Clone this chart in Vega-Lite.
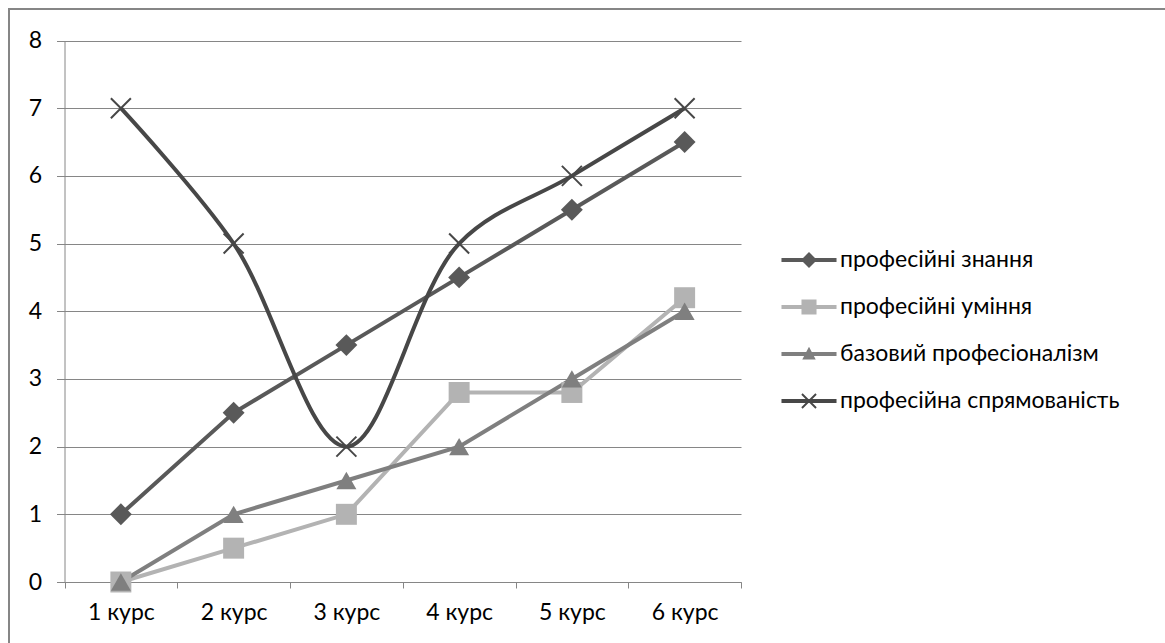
{
  "$schema": "https://vega.github.io/schema/vega-lite/v6.json",
  "autosize": {"type": "none"},
  "padding": {"left": 9, "top": 9, "right": -3, "bottom": -3},
  "width": 1159,
  "height": 637,
  "background": "white",
  "config": {
    "view": {"stroke": "#868686", "strokeWidth": 2},
    "font": "Lato",
    "axis": {
      "labelFont": "Lato",
      "labelFontSize": 23,
      "labelColor": "#000000",
      "domainColor": "#868686",
      "tickColor": "#868686",
      "gridColor": "#868686",
      "domainWidth": 1,
      "tickWidth": 1,
      "gridWidth": 1,
      "gridOpacity": 1,
      "title": null
    }
  },
  "data": {
    "values": [
      {"course": "1 курс", "series": "професійні знання", "value": 1},
      {"course": "2 курс", "series": "професійні знання", "value": 2.5},
      {"course": "3 курс", "series": "професійні знання", "value": 3.5},
      {"course": "4 курс", "series": "професійні знання", "value": 4.5},
      {"course": "5 курс", "series": "професійні знання", "value": 5.5},
      {"course": "6 курс", "series": "професійні знання", "value": 6.5},
      {"course": "1 курс", "series": "професійні уміння", "value": 0},
      {"course": "2 курс", "series": "професійні уміння", "value": 0.5},
      {"course": "3 курс", "series": "професійні уміння", "value": 1},
      {"course": "4 курс", "series": "професійні уміння", "value": 2.8},
      {"course": "5 курс", "series": "професійні уміння", "value": 2.8},
      {"course": "6 курс", "series": "професійні уміння", "value": 4.2},
      {"course": "1 курс", "series": "базовий професіоналізм", "value": 0},
      {"course": "2 курс", "series": "базовий професіоналізм", "value": 1},
      {"course": "3 курс", "series": "базовий професіоналізм", "value": 1.5},
      {"course": "4 курс", "series": "базовий професіоналізм", "value": 2},
      {"course": "5 курс", "series": "базовий професіоналізм", "value": 3},
      {"course": "6 курс", "series": "базовий професіоналізм", "value": 4},
      {"course": "1 курс", "series": "професійна спрямованість", "value": 7},
      {"course": "2 курс", "series": "професійна спрямованість", "value": 5},
      {"course": "3 курс", "series": "професійна спрямованість", "value": 2},
      {"course": "4 курс", "series": "професійна спрямованість", "value": 5},
      {"course": "5 курс", "series": "професійна спрямованість", "value": 6},
      {"course": "6 курс", "series": "професійна спрямованість", "value": 7}
    ]
  },
  "encoding": {
    "x": {
      "field": "course",
      "type": "ordinal",
      "sort": null,
      "scale": {"type": "band", "paddingInner": 0, "paddingOuter": 0, "range": [55.5, 732]},
      "axis": {
        "orient": "bottom",
        "offset": -64,
        "tickBand": "extent",
        "tickSize": 6,
        "labelPadding": 13,
        "labelAngle": 0,
        "grid": false
      }
    },
    "y": {
      "field": "value",
      "type": "quantitative",
      "scale": {"domain": [0, 8], "range": [573, 31.5], "nice": false, "zero": true},
      "axis": {
        "orient": "left",
        "offset": -55.5,
        "values": [0, 1, 2, 3, 4, 5, 6, 7, 8],
        "tickSize": 8,
        "labelPadding": 15,
        "grid": true,
        "domain": true
      }
    },
    "color": {
      "field": "series",
      "type": "nominal",
      "scale": {
        "domain": ["професійні знання", "професійні уміння", "базовий професіоналізм", "професійна спрямованість"],
        "range": ["#595959", "#b3b3b3", "#7f7f7f", "#474747"]
      },
      "legend": {
        "orient": "none",
        "legendX": 784,
        "legendY": 235,
        "title": null,
        "padding": 0,
        "symbolSize": 1024,
        "labelOffset": 15,
        "rowPadding": 19,
        "labelFont": "Lato",
        "labelFontSize": 23,
        "labelColor": "#000000",
        "labelLimit": 400,
        "encode": {
          "symbols": {
            "update": {
              "shape": {"signal": "datum.value === 'професійні знання' ? 'M-1.72,-0.125H1.72V0.125H-1.72Z M0,-0.5L0.5,0L0,0.5L-0.5,0Z' : datum.value === 'професійні уміння' ? 'M-1.72,-0.125H1.72V0.125H-1.72Z M-0.47,-0.47H0.47V0.47H-0.47Z' : datum.value === 'базовий професіоналізм' ? 'M-1.72,-0.125H1.72V0.125H-1.72Z M0,-0.45L0.42,0.35H-0.42Z' : 'M-1.72,-0.125H1.72V0.125H-1.72Z M-0.398,-0.482L0.482,0.398L0.398,0.482L-0.482,-0.398Z M-0.482,0.398L0.398,-0.482L0.482,-0.398L-0.398,0.482Z'"},
              "fill": {"scale": "color", "field": "value"},
              "stroke": {"value": "transparent"},
              "strokeWidth": {"value": 0},
              "size": {"value": 1024},
              "opacity": {"value": 1}
            }
          }
        }
      }
    }
  },
  "layer": [
    {
      "transform": [{"filter": "datum.series !== 'професійна спрямованість'"}],
      "mark": {"type": "line", "strokeWidth": 4}
    },
    {
      "transform": [{"filter": "datum.series === 'професійна спрямованість'"}],
      "mark": {"type": "line", "strokeWidth": 4, "interpolate": "catmull-rom"}
    },
    {
      "transform": [{"filter": "datum.series !== 'професійна спрямованість'"}],
      "mark": {"type": "point", "filled": true, "opacity": 1},
      "encoding": {
        "shape": {
          "field": "series",
          "type": "nominal",
          "scale": {
            "domain": ["професійні знання", "професійні уміння", "базовий професіоналізм"],
            "range": ["diamond", "square", "triangle-up"]
          },
          "legend": null
        },
        "size": {
          "field": "series",
          "type": "nominal",
          "scale": {
            "domain": ["професійні знання", "професійні уміння", "базовий професіоналізм"],
            "range": [480, 400, 720]
          },
          "legend": null
        }
      }
    },
    {
      "transform": [{"filter": "datum.series === 'професійна спрямованість'"}],
      "mark": {"type": "point", "filled": false, "opacity": 1, "shape": "M-1,-1L1,1M-1,1L1,-1", "size": 400, "strokeWidth": 2}
    }
  ]
}
